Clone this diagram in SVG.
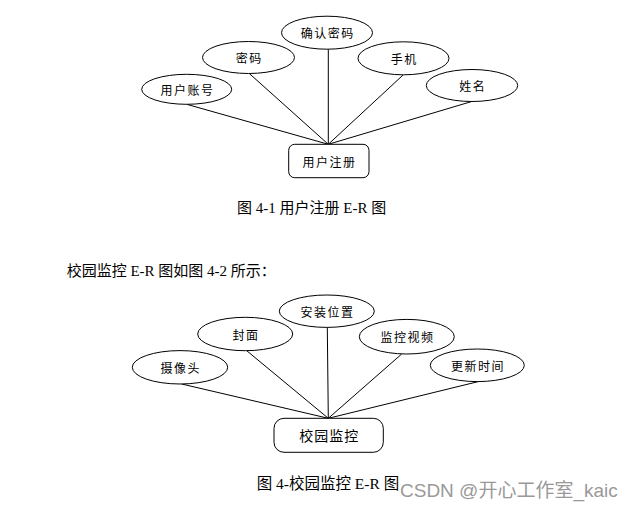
<svg xmlns="http://www.w3.org/2000/svg" width="635" height="509" viewBox="0 0 635 509">
<style>
.attr ellipse{fill:#fff;stroke:#000;stroke-width:1}
.ent rect{fill:#fff;stroke:#000;stroke-width:1}
.lbl{font-family:"Noto Sans CJK SC","Liberation Sans",sans-serif;font-size:12px;letter-spacing:1.5px;fill:#000;text-anchor:middle;dominant-baseline:central}
.big{font-size:14px;letter-spacing:1px}
.cap{font-family:"Liberation Serif","Noto Sans CJK SC",serif;font-size:15px;fill:#000}
.conn line{stroke:#000;stroke-width:1}
.wm{font-family:"Liberation Sans","Noto Sans CJK SC",sans-serif;font-size:19px;fill:#999}
</style>
<rect width="635" height="509" fill="#fff"/>
<g class="conn" id="connectors1">
<line x1="186.7" y1="104.3" x2="328.3" y2="144.3"/>
<line x1="249.3" y1="73.5" x2="328.3" y2="144.3"/>
<line x1="328.3" y1="49.3" x2="328.3" y2="144.3"/>
<line x1="403.3" y1="74.8" x2="328.3" y2="144.3"/>
<line x1="471.7" y1="101.5" x2="328.3" y2="144.3"/>
</g>
<g class="attr" id="a-yhzh"><ellipse cx="186.7" cy="89.3" rx="45" ry="15"/><text class="lbl" x="187.5" y="89.3">用户账号</text></g>
<g class="attr" id="a-mm"><ellipse cx="248.5" cy="57.5" rx="46" ry="16"/><text class="lbl" x="249.3" y="57.5">密码</text></g>
<g class="attr" id="a-qrmm"><ellipse cx="327" cy="32.7" rx="45.5" ry="16.5"/><text class="lbl" x="327.8" y="32.7">确认密码</text></g>
<g class="attr" id="a-sj"><ellipse cx="403.5" cy="58.3" rx="45.5" ry="16.5"/><text class="lbl" x="404.3" y="58.3">手机</text></g>
<g class="attr" id="a-xm"><ellipse cx="472" cy="85.5" rx="45.7" ry="16"/><text class="lbl" x="472.8" y="85.5">姓名</text></g>
<g class="ent" id="e-yhzc"><rect x="288.7" y="144.3" width="80.3" height="33.4" rx="6"/><text class="lbl" x="329.5" y="161">用户注册</text></g>
<text class="cap" x="311.7" y="213" text-anchor="middle">图 4-1 用户注册 E-R 图</text>
<text class="cap" x="66.7" y="276">校园监控 E-R 图如图 4-2 所示：</text>
<g class="conn" id="connectors2">
<line x1="181.7" y1="384" x2="328.3" y2="418.3"/>
<line x1="246.7" y1="350.7" x2="328.3" y2="418.3"/>
<line x1="327.3" y1="327.3" x2="328.3" y2="418.3"/>
<line x1="401.7" y1="354" x2="328.3" y2="418.3"/>
<line x1="478.3" y1="381.6" x2="328.3" y2="418.3"/>
</g>
<g class="attr" id="a-sxt"><ellipse cx="180" cy="367.3" rx="47.7" ry="16.7"/><text class="lbl" x="180.8" y="367.3">摄像头</text></g>
<g class="attr" id="a-fm"><ellipse cx="245.2" cy="334" rx="47.5" ry="16.7"/><text class="lbl" x="246" y="334">封面</text></g>
<g class="attr" id="a-azwz"><ellipse cx="326.8" cy="311.2" rx="47.5" ry="16.2"/><text class="lbl" x="327.6" y="311.2">安装位置</text></g>
<g class="attr" id="a-jksp"><ellipse cx="406.8" cy="336.7" rx="47.5" ry="17.3"/><text class="lbl" x="407.6" y="336.7">监控视频</text></g>
<g class="attr" id="a-gxsj"><ellipse cx="477.3" cy="365.3" rx="47" ry="16.3"/><text class="lbl" x="478.1" y="365.3">更新时间</text></g>
<g class="ent" id="e-xyjk"><rect x="274" y="418.3" width="109.3" height="34" rx="10"/><text class="lbl big" x="329.2" y="435.3">校园监控</text></g>
<text class="cap" x="256.7" y="489" style="font-size:15.5px">图 4-校园监控 E-R 图</text>
<text class="wm" x="400" y="497">CSDN @开心工作室_kaic</text>
</svg>
